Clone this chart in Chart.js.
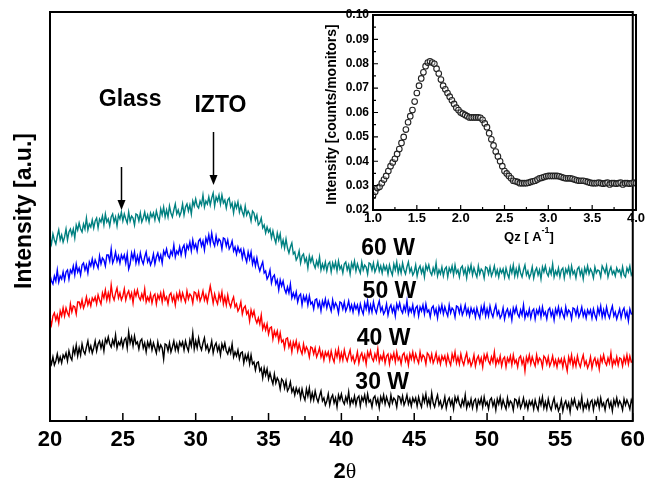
<!DOCTYPE html>
<html>
<head>
<meta charset="utf-8">
<script src="https://cdn.jsdelivr.net/npm/chart.js@4.4.0/dist/chart.umd.min.js"></script>
<style>
  html, body { margin: 0; padding: 0; background: #fff; }
  #wrap { position: relative; width: 651px; height: 484px; }
  #main { position: absolute; left: 0; top: 0; width: 651px; height: 484px; }
  #inset { position: absolute; left: 320px; top: 0; width: 331px; height: 250px; }
</style>
</head>
<body>
<div id="wrap">
  <canvas id="main" width="651" height="484"></canvas>
  <canvas id="inset" width="331" height="250"></canvas>
</div>
<script>
const FONT = "'Liberation Sans', Arial, Helvetica, sans-serif";

// main XRD scans, 2theta 20..60 in 0.1 deg steps (one row per degree), a.u. with offsets
const twoThetaStart = 20;
const twoThetaEnd = 60;
const xTickValues = [20, 25, 30, 35, 40, 45, 50, 55, 60];
const xMinorTicks = [22.5, 27.5, 32.5, 37.5, 42.5, 47.5, 52.5, 57.5];

const int30W = [
  62,57,64,56,60,67,59,64,58,66,
  63,68,60,70,64,61,73,67,76,65,
  73,66,77,70,67,74,80,70,75,68,
  73,80,70,77,80,73,79,70,82,78,
  84,77,74,81,76,86,73,79,76,82,
  74,81,83,73,89,78,84,75,85,77,
  79,72,80,82,73,78,69,79,74,80,
  71,78,73,68,79,71,76,73,62,77,
  76,70,78,69,74,80,71,77,70,79,
  75,79,71,80,74,70,81,75,88,72,
  80,73,83,75,71,78,83,72,76,69,
  73,80,68,75,78,70,75,66,77,72,
  78,70,67,73,68,77,64,69,65,71,
  62,68,69,58,66,61,67,57,66,57,
  59,51,58,59,50,53,43,53,46,52,
  42,48,42,37,47,38,43,40,32,42,
  40,33,40,30,33,39,29,33,26,33,
  28,32,23,32,25,21,32,25,33,21,
  28,21,30,23,19,25,30,20,23,16,
  20,27,16,23,26,18,23,14,26,21,
  27,20,17,24,19,29,16,22,18,25,
  16,23,25,15,24,20,26,17,27,19,
  21,14,23,25,17,22,13,24,19,26,
  17,24,19,15,26,18,23,21,14,25,
  24,18,25,16,20,26,17,22,15,23,
  19,23,15,24,18,14,25,19,27,16,
  22,15,28,18,14,21,26,16,20,13,
  17,24,13,20,23,16,21,12,24,19,
  24,17,14,21,16,26,13,19,15,22,
  13,20,22,12,21,17,23,14,24,16,
  19,12,21,23,15,20,11,22,17,24,
  14,21,16,12,23,15,20,18,11,22,
  21,15,22,13,17,23,14,19,12,20,
  16,20,12,21,15,11,22,16,24,13,
  19,12,22,15,11,18,23,13,17,10,
  14,21,10,17,20,13,18,9,21,16,
  22,15,12,19,14,24,11,17,13,20,
  12,19,21,11,20,16,22,13,23,15,
  18,11,20,22,14,19,10,21,16,23,
  15,20,17,11,22,16,21,17,12,21,
  17
];
const int40W = [
  102,96,105,108,101,106,98,110,105,113,
  105,113,108,105,117,109,115,114,107,119,
  119,114,121,113,117,124,116,121,115,123,
  120,124,117,126,121,117,128,123,131,121,
  128,121,136,125,121,128,133,123,128,121,
  125,132,121,127,130,123,128,118,130,125,
  131,124,121,127,122,132,119,124,120,127,
  118,125,127,117,126,122,128,119,129,121,
  124,117,126,128,120,125,116,127,122,129,
  121,128,123,119,130,122,127,125,118,129,
  128,122,129,120,124,130,121,126,119,127,
  135,127,118,127,121,117,127,121,129,117,
  124,116,126,118,114,120,124,114,117,110,
  113,119,107,113,115,107,110,100,111,105,
  110,102,98,103,97,106,92,97,91,97,
  87,93,94,82,90,85,90,80,88,79,
  81,73,82,83,74,79,69,79,74,80,
  70,77,71,67,77,69,74,71,64,74,
  73,67,73,64,68,73,64,69,61,69,
  65,69,61,70,63,59,70,64,72,61,
  68,61,71,64,60,66,71,61,65,58,
  62,69,58,65,68,61,66,57,69,64,
  70,63,60,67,62,72,59,65,61,68,
  58,65,67,57,66,62,68,59,69,61,
  64,57,66,68,60,65,56,67,62,69,
  60,67,62,58,69,61,66,64,57,68,
  66,60,67,58,62,68,59,64,57,65,
  61,65,57,66,60,56,67,61,69,58,
  64,57,67,60,56,63,68,58,62,55,
  59,66,55,62,65,58,63,54,66,61,
  67,60,57,64,59,69,56,62,58,65,
  55,62,64,54,63,59,65,56,66,58,
  61,54,63,65,57,62,50,64,59,66,
  57,64,59,55,66,58,63,61,54,65,
  63,57,64,55,59,65,56,61,54,62,
  58,62,54,63,57,50,64,58,66,55,
  62,55,65,58,54,61,66,56,60,53,
  57,64,53,60,63,56,61,52,64,59,
  66,59,56,63,58,68,55,61,57,64,
  56,63,62,55,64,58,66,57,65,59,
  60
];
const int50W = [
  146,140,137,145,140,151,139,145,142,149,
  141,149,151,142,151,148,155,146,157,149,
  153,146,156,158,151,156,148,159,155,162,
  154,161,157,153,165,157,163,161,155,166,
  166,160,172,158,162,169,160,165,158,166,
  162,166,158,167,152,157,168,162,169,158,
  165,158,168,161,157,164,169,159,163,156,
  160,167,157,164,168,161,166,158,170,166,
  172,165,163,170,166,176,164,170,167,174,
  166,173,176,166,176,172,179,170,181,173,
  177,170,180,182,175,180,171,183,178,186,
  177,188,179,175,185,177,182,180,172,183,
  182,175,181,172,175,180,170,174,167,174,
  169,172,163,171,164,159,169,162,169,157,
  163,155,163,155,150,155,159,148,150,142,
  145,151,138,144,146,137,141,131,141,135,
  140,132,128,134,128,137,123,128,123,129,
  119,125,127,116,125,120,125,116,125,117,
  119,112,121,122,114,119,110,120,115,122,
  113,120,115,110,121,113,118,115,108,119,
  118,112,119,110,114,120,111,116,109,117,
  112,116,108,117,111,107,118,112,120,109,
  116,109,119,112,108,115,120,110,114,107,
  110,117,106,113,116,109,114,105,117,112,
  118,111,108,115,110,120,107,113,109,116,
  106,113,115,105,114,110,116,107,117,109,
  111,104,113,115,107,112,103,114,109,116,
  107,114,109,105,116,108,113,111,104,115,
  114,108,115,106,110,116,107,112,105,113,
  108,112,104,113,107,103,114,108,116,105,
  112,105,115,108,104,111,116,106,110,103,
  106,113,102,109,112,105,110,101,113,108,
  114,107,104,111,106,116,103,109,105,112,
  103,110,112,102,111,107,113,104,114,106,
  109,102,111,113,105,110,101,112,107,114,
  105,112,107,103,114,106,111,109,102,113,
  112,106,113,104,108,114,105,110,103,111,
  107,111,103,112,106,102,113,107,115,104,
  111,104,114,107,103,110,115,105,109,102,
  107,112,103,110,113,104,109,100,112,107,
  108
];
const int60W = [
  183,177,187,181,177,185,191,181,186,179,
  184,192,181,189,192,186,192,183,196,191,
  198,192,189,197,192,203,191,197,194,201,
  193,200,203,193,202,199,205,196,207,199,
  202,195,204,207,199,204,195,206,202,209,
  200,207,202,198,209,200,205,203,196,207,
  206,200,208,199,203,209,201,206,199,208,
  204,208,201,210,204,200,212,206,214,204,
  211,204,215,208,204,211,217,207,211,205,
  209,217,206,214,217,210,216,207,220,215,
  222,215,213,220,216,226,214,220,217,224,
  216,223,228,215,224,220,226,217,226,218,
  221,213,221,223,214,218,208,218,213,219,
  209,215,209,205,215,206,210,207,200,210,
  208,201,206,196,198,203,193,196,188,194,
  189,192,183,190,183,178,188,181,187,175,
  181,173,182,173,168,174,178,167,169,161,
  164,170,158,165,167,159,163,153,165,159,
  164,157,153,160,155,164,151,157,152,159,
  150,157,159,149,158,153,159,150,160,152,
  155,148,157,159,151,156,147,158,153,160,
  150,157,152,148,159,151,156,154,147,158,
  157,151,158,149,153,159,150,155,148,156,
  151,155,147,156,150,146,157,151,159,148,
  155,148,158,151,147,154,159,149,153,146,
  149,156,145,152,155,148,153,144,156,151,
  156,149,146,153,148,158,145,151,147,154,
  145,152,154,144,153,149,155,146,156,148,
  151,144,153,155,147,152,143,154,149,156,
  146,153,148,144,155,147,152,150,143,154,
  153,147,154,145,149,155,146,151,144,152,
  148,152,144,153,147,143,154,148,156,145,
  152,145,155,148,144,151,156,146,150,143,
  147,154,143,150,153,146,151,142,154,149,
  155,148,145,152,147,157,144,150,146,153,
  144,151,153,143,152,148,154,145,155,147,
  150,143,152,154,146,151,142,153,148,155,
  147,152,149,143,154,148,151,150,144,155,
  152,148,155,144,150,154,147,150,145,153,
  149,151,145,154,146,144,153,149,155,146,
  149
];

const seriesLabels = ['30 W', '40 W', '50 W', '60 W'];
const seriesColors = ['#000000', '#ff0000', '#0000ff', '#008080'];
const labelTwoTheta = [42.8, 42.9, 43.3, 43.2];
const labelIntensity = [38, 82, 129, 172];

// annotations: arrows for Glass / IZTO humps
const arrowTwoTheta = [24.9, 31.2];
const arrowFrom = [254, 289];
const arrowTo = [211, 236];
const annotText = ['Glass', 'IZTO'];
const annotTwoTheta = [25.5, 31.7];
const annotIntensity = [321, 315];

// inset curve
const qz = [
  1.000,1.025,1.050,1.075,1.100,1.125,1.150,1.175,1.200,1.225,1.250,1.275,1.300,1.325,1.350,1.375,1.400,1.425,1.450,1.475,
  1.500,1.525,1.550,1.575,1.600,1.625,1.650,1.675,1.700,1.725,1.750,1.775,1.800,1.825,1.850,1.875,1.900,1.925,1.950,1.975,
  2.000,2.025,2.050,2.075,2.100,2.125,2.150,2.175,2.200,2.225,2.250,2.275,2.300,2.325,2.350,2.375,2.400,2.425,2.450,2.475,
  2.500,2.525,2.550,2.575,2.600,2.625,2.650,2.675,2.700,2.725,2.750,2.775,2.800,2.825,2.850,2.875,2.900,2.925,2.950,2.975,
  3.000,3.025,3.050,3.075,3.100,3.125,3.150,3.175,3.200,3.225,3.250,3.275,3.300,3.325,3.350,3.375,3.400,3.425,3.450,3.475,
  3.500,3.525,3.550,3.575,3.600,3.625,3.650,3.675,3.700,3.725,3.750,3.775,3.800,3.825,3.850,3.875,3.900,3.925,3.950,3.975,
  4.000
];
const qzIntensity = [
  0.0260,0.0275,0.0290,0.0295,0.0310,0.0325,0.0340,0.0360,0.0380,0.0395,0.0410,0.0430,0.0450,0.0475,0.0500,0.0530,0.0560,0.0585,0.0610,0.0645,
  0.0680,0.0710,0.0740,0.0765,0.0790,0.0805,0.0810,0.0805,0.0800,0.0780,0.0760,0.0735,0.0710,0.0695,0.0680,0.0665,0.0650,0.0635,0.0620,0.0610,
  0.0600,0.0595,0.0590,0.0585,0.0580,0.0580,0.0580,0.0580,0.0580,0.0578,0.0570,0.0555,0.0540,0.0515,0.0490,0.0465,0.0440,0.0420,0.0400,0.0380,
  0.0360,0.0350,0.0340,0.0330,0.0320,0.0318,0.0315,0.0310,0.0310,0.0310,0.0310,0.0312,0.0315,0.0318,0.0320,0.0325,0.0330,0.0332,0.0335,0.0338,
  0.0340,0.0340,0.0340,0.0340,0.0340,0.0338,0.0335,0.0332,0.0330,0.0330,0.0330,0.0328,0.0325,0.0322,0.0320,0.0320,0.0320,0.0318,0.0315,0.0312,
  0.0310,0.0310,0.0310,0.0312,0.0310,0.0308,0.0310,0.0312,0.0305,0.0310,0.0310,0.0308,0.0310,0.0312,0.0305,0.0310,0.0310,0.0308,0.0310,0.0312,
  0.0310
];
const insetXTicks = [1.0, 1.5, 2.0, 2.5, 3.0, 3.5, 4.0];
const insetXMinor = [1.25, 1.75, 2.25, 2.75, 3.25, 3.75];
const insetYTicks = [0.02, 0.03, 0.04, 0.05, 0.06, 0.07, 0.08, 0.09, 0.10];
const insetYMinor = [0.025, 0.035, 0.045, 0.055, 0.065, 0.075, 0.085, 0.095];

function toPoints(values) {
  const step = (twoThetaEnd - twoThetaStart) / (values.length - 1);
  return values.map((v, i) => ({ x: twoThetaStart + i * step, y: v }));
}

const mainDecor = {
  id: 'mainDecor',
  afterDraw(chart) {
    const { ctx, chartArea: a, scales: { x, y } } = chart;
    ctx.save();
    ctx.strokeStyle = '#000';
    ctx.fillStyle = '#000';
    ctx.lineWidth = 2;
    ctx.strokeRect(a.left, a.top, a.right - a.left, a.bottom - a.top);

    // inward ticks
    ctx.lineWidth = 1.5;
    ctx.beginPath();
    xTickValues.forEach(v => { const p = x.getPixelForValue(v); ctx.moveTo(p, a.bottom); ctx.lineTo(p, a.bottom - 8); });
    xMinorTicks.forEach(v => { const p = x.getPixelForValue(v); ctx.moveTo(p, a.bottom); ctx.lineTo(p, a.bottom - 5); });
    ctx.stroke();

    // arrows
    arrowTwoTheta.forEach((t, i) => {
      const px = Math.round(x.getPixelForValue(t)) + 0.5;
      const y1 = y.getPixelForValue(arrowFrom[i]);
      const y2 = y.getPixelForValue(arrowTo[i]);
      ctx.lineWidth = 1.5;
      ctx.beginPath(); ctx.moveTo(px, y1); ctx.lineTo(px, y2 - 8); ctx.stroke();
      ctx.beginPath(); ctx.moveTo(px - 4, y2 - 10); ctx.lineTo(px + 4, y2 - 10); ctx.lineTo(px, y2); ctx.closePath(); ctx.fill();
    });

    ctx.textAlign = 'center';
    ctx.textBaseline = 'middle';
    ctx.font = 'bold 23px ' + FONT;
    annotText.forEach((s, i) => ctx.fillText(s, x.getPixelForValue(annotTwoTheta[i]), y.getPixelForValue(annotIntensity[i])));
    seriesLabels.forEach((s, i) => ctx.fillText(s, x.getPixelForValue(labelTwoTheta[i]), y.getPixelForValue(labelIntensity[i])));

    // axis titles
    ctx.save();
    ctx.translate(a.left - 25, 211);
    ctx.rotate(-Math.PI / 2);
    ctx.fillText('Intensity [a.u.]', 0, 0);
    ctx.restore();

    ctx.font = 'bold 22px ' + FONT;
    const w2 = ctx.measureText('2').width;
    ctx.font = "22px 'Liberation Serif', 'DejaVu Serif', serif";
    const wt = ctx.measureText('\u03b8').width;
    const cx = 345 - (w2 + wt) / 2;
    ctx.textAlign = 'left';
    ctx.font = 'bold 22px ' + FONT;
    ctx.fillText('2', cx, 472);
    ctx.font = "22px 'Liberation Serif', 'DejaVu Serif', serif";
    ctx.fillText('\u03b8', cx + w2, 472);
    ctx.restore();
  }
};

new Chart(document.getElementById('main'), {
  type: 'line',
  data: {
    datasets: [int30W, int40W, int50W, int60W].map((vals, i) => ({
      label: seriesLabels[i],
      data: toPoints(vals),
      borderColor: seriesColors[i],
      borderWidth: 1.4,
      pointRadius: 0,
      fill: false,
      tension: 0
    }))
  },
  options: {
    responsive: false,
    animation: false,
    layout: { padding: { top: 12, right: 13, left: 0, bottom: 0 } },
    plugins: { legend: { display: false }, tooltip: { enabled: false } },
    scales: {
      x: {
        type: 'linear', min: 20, max: 60,
        afterBuildTicks: s => { s.ticks = xTickValues.map(v => ({ value: v })); },
        ticks: { color: '#000', font: { family: FONT, size: 22, weight: 'bold' }, padding: 6, maxRotation: 0, autoSkip: false },
        grid: { display: false, drawTicks: false },
        border: { display: false },
        afterFit: s => { s.height = 63; }
      },
      y: {
        min: 0, max: 409,
        ticks: { display: false },
        grid: { display: false, drawTicks: false },
        border: { display: false },
        afterFit: s => { s.width = 50; }
      }
    }
  },
  plugins: [mainDecor]
});

const insetDecor = {
  id: 'insetDecor',
  afterDraw(chart) {
    const { ctx, chartArea: a, scales: { x, y } } = chart;
    ctx.save();
    ctx.strokeStyle = '#000';
    ctx.fillStyle = '#000';
    ctx.lineWidth = 2;
    ctx.strokeRect(a.left, a.top, a.right - a.left, a.bottom - a.top);
    ctx.lineWidth = 1.2;
    ctx.beginPath();
    insetXTicks.forEach(v => { const p = x.getPixelForValue(v); ctx.moveTo(p, a.bottom); ctx.lineTo(p, a.bottom - 5); });
    insetXMinor.forEach(v => { const p = x.getPixelForValue(v); ctx.moveTo(p, a.bottom); ctx.lineTo(p, a.bottom - 3); });
    insetYTicks.forEach(v => { const p = y.getPixelForValue(v); ctx.moveTo(a.left, p); ctx.lineTo(a.left + 5, p); });
    insetYMinor.forEach(v => { const p = y.getPixelForValue(v); ctx.moveTo(a.left, p); ctx.lineTo(a.left + 3, p); });
    ctx.stroke();

    ctx.textAlign = 'center';
    ctx.textBaseline = 'middle';
    ctx.font = 'bold 14px ' + FONT;
    ctx.save();
    ctx.translate(12, (a.top + a.bottom) / 2 + 2);
    ctx.rotate(-Math.PI / 2);
    ctx.fillText('Intensity [counts/monitors]', 0, 0);
    ctx.restore();

    // Qz [ A^-1 ]
    ctx.textAlign = 'left';
    ctx.font = 'bold 13px ' + FONT;
    const p1 = 'Qz [ A', p3 = ']';
    const w1 = ctx.measureText(p1).width, w3 = ctx.measureText(p3).width;
    ctx.font = 'bold 9px ' + FONT;
    const w2 = ctx.measureText('-1').width;
    const cx = 209 - (w1 + w2 + w3) / 2;
    ctx.font = 'bold 13px ' + FONT;
    ctx.fillText(p1, cx, 237);
    ctx.font = 'bold 9px ' + FONT;
    ctx.fillText('-1', cx + w1, 231);
    ctx.font = 'bold 13px ' + FONT;
    ctx.fillText(p3, cx + w1 + w2, 237);
    ctx.restore();
  }
};

new Chart(document.getElementById('inset'), {
  type: 'line',
  data: {
    datasets: [{
      data: qz.map((q, i) => ({ x: q, y: qzIntensity[i] })),
      showLine: false,
      pointStyle: 'circle',
      pointRadius: 2.8,
      pointBorderWidth: 1.1,
      pointBorderColor: '#222222',
      pointBackgroundColor: 'rgba(255,255,255,0.35)'
    }]
  },
  options: {
    responsive: false,
    animation: false,
    layout: { padding: { top: 15, right: 15, left: 0, bottom: 0 } },
    plugins: { legend: { display: false }, tooltip: { enabled: false } },
    scales: {
      x: {
        type: 'linear', min: 1, max: 4,
        afterBuildTicks: s => { s.ticks = insetXTicks.map(v => ({ value: v })); },
        ticks: { color: '#000', font: { family: FONT, size: 13, weight: 'bold' }, padding: 1, maxRotation: 0, autoSkip: false, callback: v => v.toFixed(1) },
        grid: { display: false, drawTicks: false },
        border: { display: false },
        afterFit: s => { s.height = 40; }
      },
      y: {
        min: 0.02, max: 0.10,
        afterBuildTicks: s => { s.ticks = insetYTicks.map(v => ({ value: v })); },
        ticks: { color: '#000', font: { family: FONT, size: 12, weight: 'bold' }, padding: 4, autoSkip: false, callback: v => v.toFixed(2) },
        grid: { display: false, drawTicks: false },
        border: { display: false },
        afterFit: s => { s.width = 53; }
      }
    }
  },
  plugins: [insetDecor]
});
</script>
</body>
</html>
